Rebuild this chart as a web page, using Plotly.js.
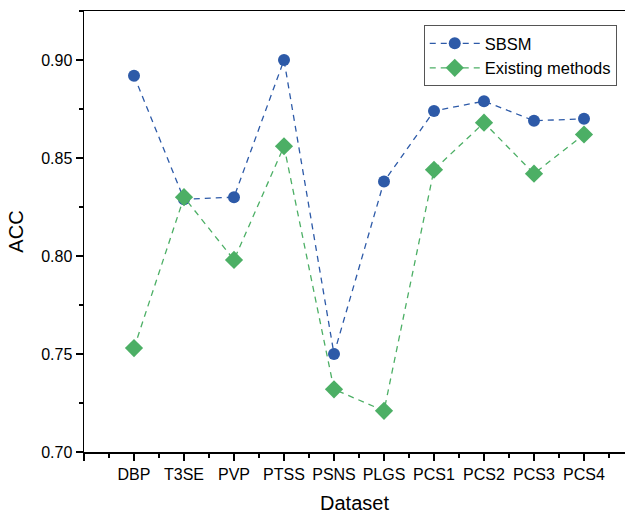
<!DOCTYPE html>
<html>
<head>
<meta charset="utf-8">
<script src="https://cdn.plot.ly/plotly-3.0.1.min.js"></script>
<style>html,body{margin:0;padding:0;background:#fff;}#chart{width:625px;height:514px;}</style>
</head>
<body>
<div id="chart"></div>
<script>
const categories = ['DBP','T3SE','PVP','PTSS','PSNS','PLGS','PCS1','PCS2','PCS3','PCS4'];
const sbsm = [0.892, 0.829, 0.830, 0.900, 0.750, 0.838, 0.874, 0.879, 0.869, 0.870];
const existing = [0.753, 0.830, 0.798, 0.856, 0.732, 0.721, 0.844, 0.868, 0.842, 0.862];
const yTicks = [0.70, 0.75, 0.80, 0.85, 0.90];

const pos = categories.map((c, i) => i + 1);
const tickvals = [0].concat(pos);
const ticktext = [''].concat(categories);
const minorVals = [];
for (let i = 0; i <= categories.length; i++) minorVals.push(i + 0.5);

const font = 'Liberation Sans, Arial, sans-serif';

const traces = [
  {
    x: pos, y: sbsm, name: 'SBSM', type: 'scatter', mode: 'lines+markers',
    line: {color: '#2d5aa8', width: 1.3, dash: '6px,5px'},
    marker: {symbol: 'circle', size: 12, color: '#2d5aa8'}
  },
  {
    x: pos, y: existing, name: 'Existing methods', type: 'scatter', mode: 'lines+markers',
    line: {color: '#4caf65', width: 1.3, dash: '6px,5px'},
    marker: {symbol: 'diamond', size: 14, color: '#4caf65'}
  }
];

const layout = {
  width: 625, height: 514,
  margin: {l: 84, r: 0, t: 11, b: 62},
  paper_bgcolor: '#fff', plot_bgcolor: '#fff',
  font: {family: font, size: 16, color: '#000'},
  showlegend: true,
  legend: {
    x: 0.628, y: 0.968, xanchor: 'left', yanchor: 'top',
    bgcolor: '#fff', bordercolor: '#555', borderwidth: 1,
    font: {family: font, size: 16.5, color: '#000'},
    itemwidth: 50, tracegroupgap: 0
  },
  xaxis: {
    range: [0, 10.82],
    tickmode: 'array', tickvals: tickvals, ticktext: ticktext,
    ticks: 'outside', ticklen: 7, tickwidth: 1.3, tickcolor: '#000',
    minor: {tickmode: 'array', tickvals: minorVals, ticks: 'outside', ticklen: 4, tickwidth: 1.3, tickcolor: '#000'},
    showline: true, linecolor: '#000', linewidth: 1.5, mirror: true,
    showgrid: false, zeroline: false,
    tickfont: {family: font, size: 16, color: '#000'},
    title: {text: 'Dataset', font: {family: font, size: 20, color: '#000'}, standoff: 14}
  },
  yaxis: {
    range: [0.70, 0.925],
    tickmode: 'array', tickvals: yTicks, ticktext: yTicks.map(v => v.toFixed(2)),
    ticks: 'outside', ticklen: 7, tickwidth: 1.3, tickcolor: '#000',
    minor: {tickmode: 'array', tickvals: [0.725, 0.775, 0.825, 0.875, 0.925], ticks: 'outside', ticklen: 4, tickwidth: 1.3, tickcolor: '#000'},
    showline: true, linecolor: '#000', linewidth: 1.5,
    showgrid: false, zeroline: false,
    tickfont: {family: font, size: 16, color: '#000'},
    title: {text: 'ACC', font: {family: font, size: 20, color: '#000'}, standoff: 12}
  }
};

Plotly.newPlot('chart', traces, layout, {displayModeBar: false, staticPlot: true});
</script>
</body>
</html>
